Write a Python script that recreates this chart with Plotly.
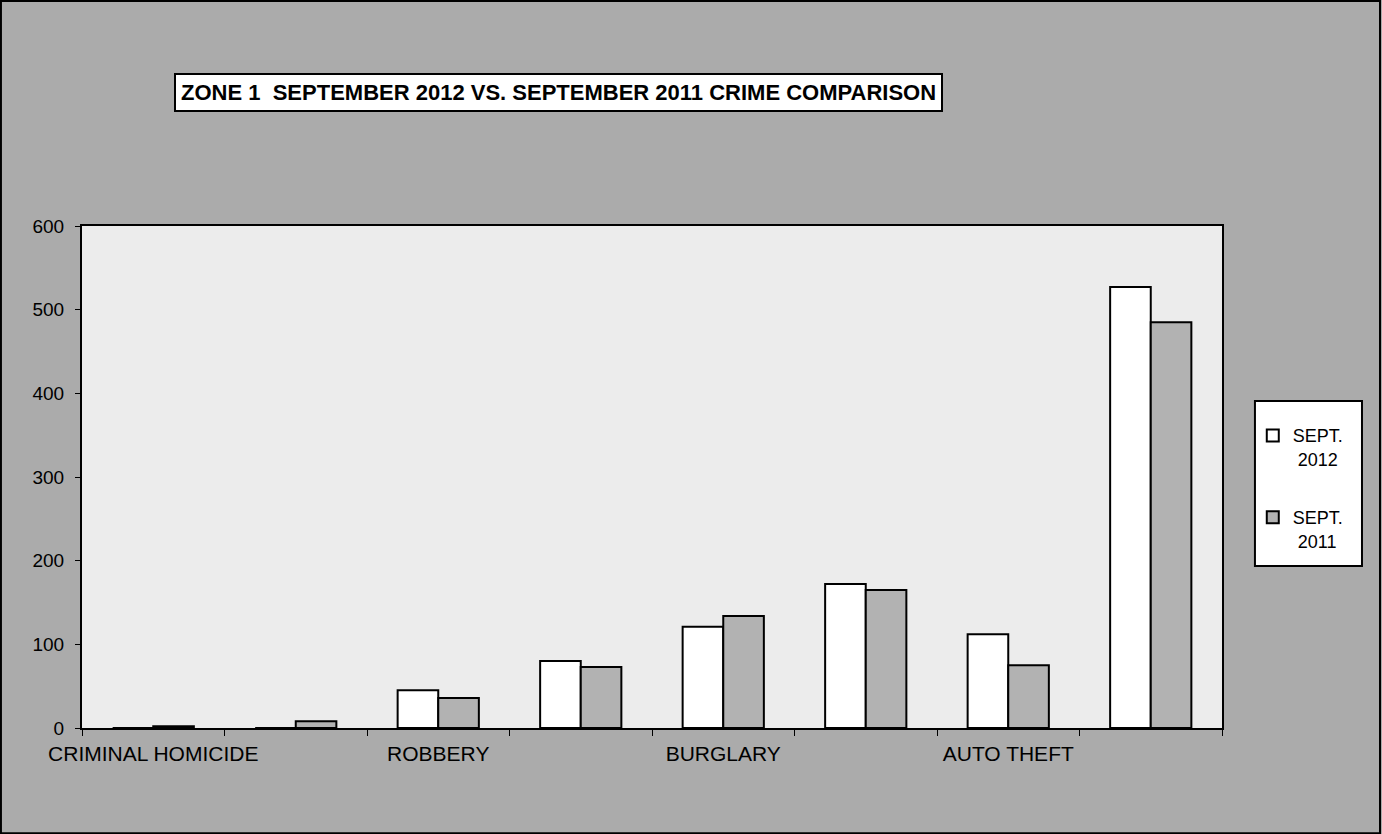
import plotly.graph_objects as go

categories = ["CRIMINAL HOMICIDE", "RAPE", "ROBBERY", "AGGRAVATED ASSAULT",
              "BURGLARY", "LARCENY", "AUTO THEFT", "TOTAL"]
tick_labels = ["CRIMINAL HOMICIDE", "", "ROBBERY", "", "BURGLARY", "", "AUTO THEFT", ""]
sept_2012 = [0, 0, 45, 80, 121, 172, 112, 527]
sept_2011 = [2, 8, 36, 73, 134, 165, 75, 485]
series_names = ["SEPT.<br>\u00a02012", "SEPT.<br>\u00a02011"]

FONT = "Arial, 'Liberation Sans', sans-serif"

fig = go.Figure()
fig.add_trace(go.Bar(x=categories, y=sept_2012, name=series_names[0], legendgroup="a",
                     marker=dict(color="#ffffff", line=dict(color="#000000", width=2))))
fig.add_trace(go.Bar(x=categories, y=sept_2011, name=series_names[1], legendgroup="b",
                     marker=dict(color="#b2b2b2", line=dict(color="#000000", width=2))))

fig.update_layout(
    width=1382, height=834,
    margin=dict(l=82, r=160, t=226, b=106, autoexpand=False),
    paper_bgcolor="#ababab",
    plot_bgcolor="#ececec",
    barmode="group",
    bargap=0.43, bargroupgap=0,
    font=dict(family=FONT, size=19, color="#000000"),
    showlegend=True,
    legend=dict(x=1.027, y=0.619, xanchor="left", yanchor="top",
                bgcolor="rgba(0,0,0,0)", borderwidth=0,
                font=dict(size=18, family=FONT), valign="top",
                tracegroupgap=32, itemwidth=30),
    xaxis=dict(type="category", tickmode="array", tickvals=categories, ticktext=tick_labels,
               tickson="boundaries", ticks="outside", ticklen=6, tickcolor="#000",
               showline=True, linecolor="#000", linewidth=2, mirror=True,
               showgrid=False, tickfont=dict(size=21), tickangle=0, automargin=False,
               ticklabelstandoff=6),
    yaxis=dict(range=[0, 600], dtick=100, ticks="outside", ticklen=5, tickcolor="#000",
               showline=True, linecolor="#000", linewidth=2, mirror=True,
               showgrid=False, zeroline=False, tickfont=dict(size=19), automargin=False,
               ticklabelstandoff=7),
    shapes=[
        dict(type="rect", xref="paper", yref="paper", x0=1.0289, x1=1.1228, y0=0.3227, y1=0.6514,
             fillcolor="#ffffff", line=dict(color="#000000", width=2), layer="below"),
        dict(type="rect", xref="paper", yref="paper", x0=-0.0711, x1=1.1386, y0=-0.2098, y1=1.448,
             fillcolor="rgba(0,0,0,0)", line=dict(color="#000000", width=2)),
    ],
    annotations=[
        dict(text="<b>ZONE 1  SEPTEMBER 2012 VS. SEPTEMBER 2011 CRIME COMPARISON</b>",
             xref="paper", yref="paper", x=0.418, y=1.265, xanchor="center", yanchor="middle",
             showarrow=False, font=dict(size=22, family=FONT, color="#000"),
             bgcolor="#ffffff", bordercolor="#000000", borderwidth=2, borderpad=5),
    ],
)

fig.write_html("out.html", config={"displayModeBar": False},
               post_script="document.body.style.margin='0';document.body.style.padding='0';")
